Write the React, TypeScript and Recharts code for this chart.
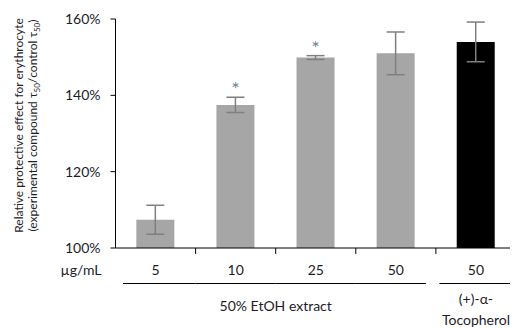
import { BarChart, Bar, XAxis, YAxis, Cell, ErrorBar, LabelList } from "recharts";

// values (percent of control)
const doses = ["5", "10", "25", "50", "50"];
const means = [107.4, 137.5, 149.9, 151.0, 154.0];
const errors = [3.8, 2.0, 0.5, 5.6, 5.2];
const significant = [false, true, true, false, false];
const barColors = ["#a6a6a6", "#a6a6a6", "#a6a6a6", "#a6a6a6", "#000000"];
const yTicks = [100, 120, 140, 160];

const FONT = "Lato, 'Open Sans', sans-serif";
const TEXT = "#1c1c2a";

const data = doses.map((d, i) => ({
  dose: d,
  value: means[i],
  err: errors[i],
  sig: significant[i],
}));

function DoseTick(props: any) {
  const { x, y, payload, index } = props;
  const half = payload?.offset ?? 40;
  const left = x - half;
  const right = x + half;
  // group rule segments under the labels
  let segFrom = left;
  let segTo = right;
  if (index === 0) segFrom = left + 7.5;
  if (index === 3) segTo = right - 10;
  if (index === 4) segFrom = left + 3.5;
  return (
    <g>
      <line x1={right} y1={y} x2={right} y2={y + 6} stroke="#000" />
      <text x={x} y={y + 27} textAnchor="middle" fontFamily={FONT} fontSize={14} fill={TEXT}>
        {payload.value}
      </text>
      <line x1={segFrom} y1={y + 35.5} x2={segTo} y2={y + 35.5} stroke="#000" />
      {index === 0 && (
        <text x={left - 14} y={y + 27} textAnchor="end" fontFamily={FONT} fontSize={14} fill={TEXT}>
          µg/mL
        </text>
      )}
      {index === 1 && (
        <text x={right} y={y + 63} textAnchor="middle" fontFamily={FONT} fontSize={14} fill={TEXT}>
          50% EtOH extract
        </text>
      )}
      {index === 4 && (
        <text x={x} textAnchor="middle" fontFamily={FONT} fontSize={14} fill={TEXT}>
          <tspan x={x} y={y + 56}>(+)-α-</tspan>
          <tspan x={x} y={y + 77}>Tocopherol</tspan>
        </text>
      )}
    </g>
  );
}

function YTitle(props: any) {
  const vb = props.viewBox || { x: 0, y: 19, width: 115, height: 229 };
  const cy = vb.y + vb.height / 2 - 8;
  return (
    <g fontFamily={FONT} fontSize={12} fill={TEXT}>
      <text transform={`translate(23, ${cy}) rotate(-90)`} textAnchor="middle">
        Relative protective effect for erythrocyte
      </text>
      <text transform={`translate(37, ${cy}) rotate(-90)`} textAnchor="middle">
        (experimental compound τ<tspan fontSize={8} dy={3}>50</tspan>
        <tspan dy={-3}>/control τ</tspan>
        <tspan fontSize={8} dy={3}>50</tspan>
        <tspan dy={-3}>)</tspan>
      </text>
    </g>
  );
}

function Star(props: any) {
  const { x, y, width, height, index } = props;
  if (!data[index]?.sig) return null;
  const k = height / (data[index].value - 100);
  const errTop = y - data[index].err * k;
  return (
    <text x={x + width / 2} y={errTop - 1} textAnchor="middle" fontFamily={FONT} fontSize={20} fill="#6f7f9c">
      *
    </text>
  );
}

export default function App() {
  return (
    <BarChart
      width={518}
      height={328}
      data={data}
      margin={{ top: 19, right: 2, left: 0, bottom: 50 }}
      barCategoryGap="26%"
      style={{ marginLeft: -8, marginTop: -8 }}
    >
      <XAxis
        dataKey="dose"
        height={30}
        tickLine={false}
        tickSize={0}
        tickMargin={0}
        axisLine={{ stroke: "#000" }}
        tick={<DoseTick />}
        interval={0}
      />
      <YAxis
        width={115.5}
        domain={[100, 160]}
        ticks={yTicks}
        tickFormatter={(v: number) => `${v}%`}
        tickSize={5}
        tickMargin={10}
        axisLine={{ stroke: "#000" }}
        tickLine={{ stroke: "#000" }}
        tick={{ fontFamily: FONT, fontSize: 14, fill: TEXT }}
        label={{ content: <YTitle /> }}
        allowDataOverflow
      />
      <Bar dataKey="value" isAnimationActive={false}>
        {data.map((d, i) => (
          <Cell key={i} fill={barColors[i]} />
        ))}
        <ErrorBar dataKey="err" width={9} stroke="#7f7f7f" strokeWidth={1.5} />
        <LabelList dataKey="value" content={<Star />} />
      </Bar>
    </BarChart>
  );
}
